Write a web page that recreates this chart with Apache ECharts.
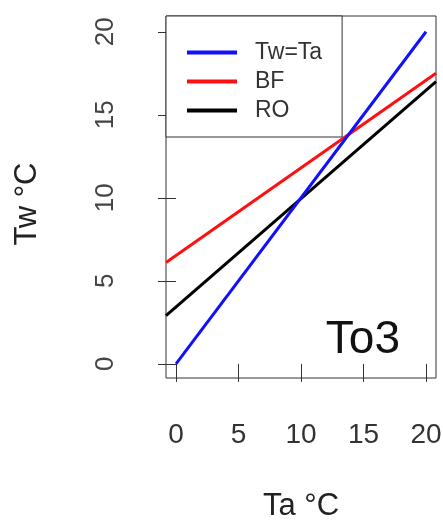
<!DOCTYPE html>
<html>
<head>
<meta charset="utf-8">
<script src="https://cdn.jsdelivr.net/npm/echarts@6/dist/echarts.min.js"></script>
<style>
  html, body { margin: 0; padding: 0; background: #fff; }
  #chart { width: 443px; height: 521px; }
</style>
</head>
<body>
<div id="chart"></div>
<script>
// Water temperature (Tw) against air temperature (Ta), station To3
const seriesNames = ['Tw=Ta', 'BF', 'RO'];
const seriesColors = ['#1010ff', '#ff1010', '#000000'];
// [Ta, Tw] end points of each straight line
const lineOneToOne = [[0, 0], [20, 20]];
const lineBF = [[-0.8, 6.1], [20.8, 17.5]];
const lineRO = [[-0.8, 2.9], [20.8, 17.0]];
const xTicks = [0, 5, 10, 15, 20];
const yTicks = [0, 5, 10, 15, 20];
const panelLabel = 'To3';

const font = '"Liberation Sans", Arial, sans-serif';
const ink = '#333';

const chart = echarts.init(document.getElementById('chart'), null, { renderer: 'canvas' });

const seriesData = [lineOneToOne, lineBF, lineRO];

chart.setOption({
  backgroundColor: '#fff',
  animation: false,
  grid: {
    left: 166, right: 7, top: 16, bottom: 143,
    containLabel: false, outerBoundsMode: 'none',
    show: true, borderColor: ink, borderWidth: 1, backgroundColor: 'transparent'
  },
  xAxis: {
    type: 'value', min: -0.8, max: 20.8,
    name: 'Ta °C', nameLocation: 'middle', nameGap: 113,
    nameTextStyle: { fontFamily: font, fontSize: 31, color: '#222' },
    axisLine: { show: false },
    splitLine: { show: false },
    axisTick: { show: true, inside: false, length: 18, customValues: xTicks, lineStyle: { color: ink, width: 1 } },
    axisLabel: { customValues: xTicks, margin: 43, fontFamily: font, fontSize: 28, color: '#333' }
  },
  yAxis: {
    type: 'value', min: -0.85, max: 20.95,
    name: 'Tw °C', nameLocation: 'middle', nameGap: 123, nameRotate: 90,
    nameTextStyle: { fontFamily: font, fontSize: 31, color: '#222', padding: [0, 14, 0, 0] },
    axisLine: { show: false },
    splitLine: { show: false },
    axisTick: { show: true, inside: false, length: 18, customValues: yTicks, lineStyle: { color: ink, width: 1 } },
    axisLabel: { customValues: yTicks, rotate: 90, margin: 47, fontFamily: font, fontSize: 26, color: '#444' }
  },
  legend: {
    left: 166, top: 16, orient: 'vertical',
    data: seriesNames.map(n => ({ name: n, icon: 'rect' })),
    itemWidth: 50, itemHeight: 4, itemGap: 0,
    padding: [22, 20, 12, 21],
    borderColor: ink, borderWidth: 1, backgroundColor: '#fff',
    textStyle: { fontFamily: font, fontSize: 23, color: '#333', lineHeight: 29, padding: [0, 0, 0, 13] },
    selectedMode: false
  },
  graphic: [{
    type: 'text', right: 43, top: 317, z: 10,
    style: { text: panelLabel, fontFamily: font, fontSize: 46, fill: '#111' }
  }],
  series: seriesNames.map((n, i) => ({
    name: n, type: 'line', data: seriesData[i],
    showSymbol: false, symbol: 'none', clip: true,
    lineStyle: { color: seriesColors[i], width: 3 },
    itemStyle: { color: seriesColors[i] },
    z: 3 - i
  }))
});
</script>
</body>
</html>
